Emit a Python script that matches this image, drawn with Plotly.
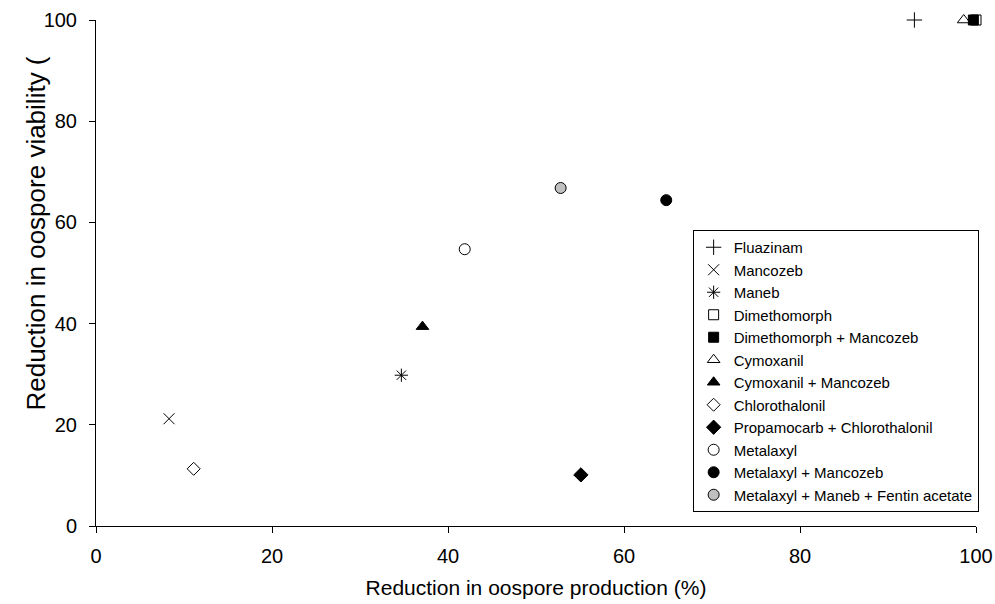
import plotly.graph_objects as go

names = ["Fluazinam", "Mancozeb", "Maneb", "Dimethomorph", "Dimethomorph + Mancozeb",
         "Cymoxanil", "Cymoxanil + Mancozeb", "Chlorothalonil", "Propamocarb + Chlorothalonil",
         "Metalaxyl", "Metalaxyl + Mancozeb", "Metalaxyl + Maneb + Fentin acetate"]
oospore_production = [93.0, 8.3, 34.7, 100.0, 99.7, 98.6, 37.1, 11.1, 55.1, 41.9, 64.8, 52.8]
oospore_viability = [100.0, 21.2, 29.8, 100.0, 100.0, 100.0, 39.4, 11.3, 10.1, 54.7, 64.4, 66.8]

symbols = ["cross-thin-open", "x-thin-open", "asterisk-open", "square", "square",
           "triangle-up", "triangle-up", "diamond", "diamond", "circle", "circle", "circle"]
fills = ["black", "black", "black", "white", "black", "white", "black", "white", "black",
         "white", "black", "#c0c0c0"]
sizes = [11, 11, 11, 10, 10, 11, 11, 10, 11, 11, 11, 11]
draw_order = [0, 1, 2, 3, 5, 4, 6, 7, 8, 9, 10, 11]

fig = go.Figure()
for i in draw_order:
    fig.add_trace(go.Scatter(
        x=[oospore_production[i]], y=[oospore_viability[i]], mode="markers",
        name=names[i], legendrank=i + 1, cliponaxis=False,
        marker=dict(symbol=symbols[i], size=sizes[i], color=fills[i],
                    line=dict(color="black", width=1)),
    ))

font_family = "Liberation Sans, Arial, sans-serif"
axis_common = dict(range=[0, 100], dtick=20, showgrid=False, zeroline=False,
                   showline=True, linecolor="black", linewidth=1, automargin=False,
                   ticks="outside", ticklen=6, tickcolor="black", tickwidth=1,
                   tickfont=dict(family=font_family, size=20, color="black"))

fig.update_layout(
    width=995, height=604,
    margin=dict(l=96, r=19, t=20, b=78, autoexpand=False),
    paper_bgcolor="white", plot_bgcolor="white",
    font=dict(family=font_family, color="black"),
    xaxis=dict(**axis_common, ticklabelstandoff=6,
               title=dict(text="Reduction in oospore production (%)",
                          font=dict(family=font_family, size=21, color="black"), standoff=14)),
    yaxis=dict(**axis_common, ticklabelstandoff=8),
    showlegend=True,
    legend=dict(x=0.678, y=0.585, xanchor="left", yanchor="top",
                bordercolor="black", borderwidth=1, bgcolor="white",
                font=dict(family=font_family, size=15, color="black"),
                itemwidth=30, tracegroupgap=0),
    annotations=[dict(text="Reduction in oospore viability (", xref="paper", yref="paper",
                      x=-0.0886, y=0.578, textangle=-90, showarrow=False,
                      font=dict(family=font_family, size=26, color="black"))],
)

fig.write_html("out.html", config={"displayModeBar": False},
               post_script="document.body.style.margin='0';document.body.style.overflow='hidden';")
